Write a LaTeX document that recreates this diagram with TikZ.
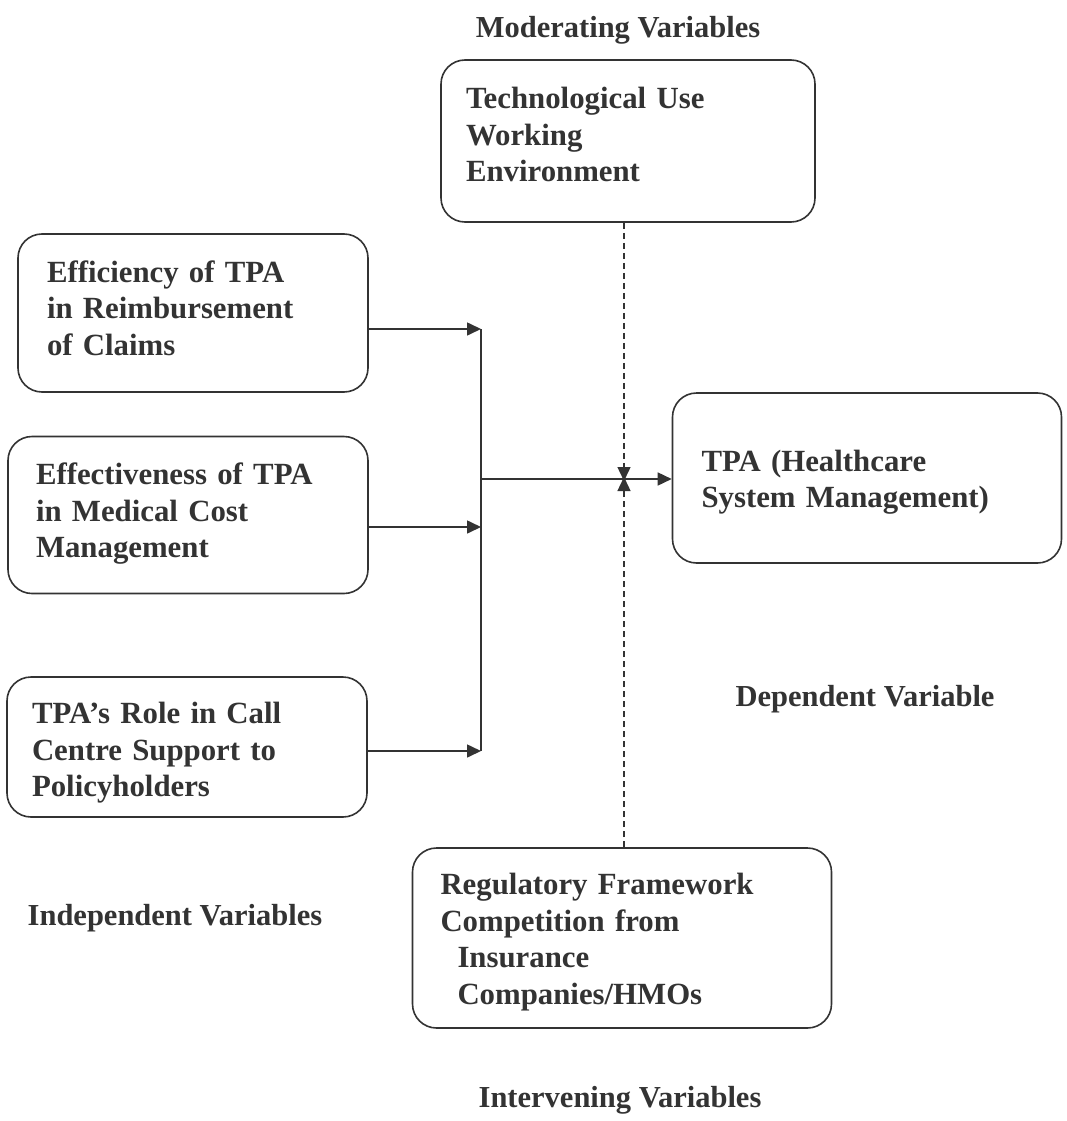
\documentclass[tikz,border=0pt]{standalone}
\usepackage{fontspec}
\setmainfont{Liberation Serif}
\usetikzlibrary{arrows.meta}
\definecolor{ink}{HTML}{333333}
\newcommand{\shiftup}[1]{\par\vspace*{#1}}
\begin{document}
\begin{tikzpicture}[x=1pt,y=-1pt,
  box/.style={draw=ink, line width=1.6pt, rounded corners=24pt, inner xsep=25pt, inner ysep=0pt,
    align=left, text=ink, font=\bfseries\fontsize{30.8}{36.5}\selectfont},
  lbl/.style={text=ink, font=\bfseries\fontsize{30.5}{35}\selectfont, inner sep=0pt},
  conn/.style={draw=ink, line width=1.6pt},
  arr/.style={conn, -{Triangle[length=14pt,width=13pt]}},
  dsh/.style={arr, line width=1.4pt, dash pattern=on 6pt off 4pt}]
\useasboundingbox[fill=white] (0,0) rectangle (1067,1121);

\node[box, text width=324pt, minimum height=162pt] (mod) at (628,141) {Technological Use\\Working\\Environment\shiftup{13pt}};
\node[box, inner xsep=29pt, text width=292pt, minimum height=158pt] (eff) at (193,313) {Efficiency of TPA\\in Reimbursement\\of Claims\shiftup{10pt}};
\node[box, inner xsep=28pt, text width=304pt, minimum height=157pt] (effm) at (188,515) {Effectiveness of TPA\\in Medical Cost\\Management\shiftup{2pt}};
\node[box, inner xsep=25pt, text width=310pt, minimum height=140pt] (role) at (187,747) {TPA's Role in Call\\Centre Support to\\Policyholders\shiftup{-12pt}};
\node[box, inner xsep=29pt, text width=331pt, minimum height=170pt] (tpa) at (867,478) {TPA (Healthcare\\System Management)\shiftup{-8pt}};
\node[box, inner xsep=28pt, text width=363pt, minimum height=180pt] (reg) at (622,938) {Regulatory Framework\\Competition from\\\hspace*{17pt}Insurance\\\hspace*{17pt}Companies/HMOs\shiftup{-8pt}};

\node[lbl] (lmod) at (618,30) {Moderating Variables};
\node[lbl] (ldep) at (865,699) {Dependent Variable};
\node[lbl] (lind) at (175,918) {Independent Variables};
\node[lbl] (lint) at (620,1100) {Intervening Variables};

\coordinate (j1) at (481,329);
\coordinate (j2) at (481,527);
\coordinate (j3) at (481,751);
\coordinate (jm) at (481,479);
\coordinate (meet) at (624,479);

\draw[arr] (eff.east |- j1) -- (j1);
\draw[arr] (effm.east |- j2) -- (j2);
\draw[arr] (role.east |- j3) -- (j3);
\draw[conn] (j1) -- (j3);
\draw[arr] (jm) -- (tpa.west |- jm);
\draw[dsh] (mod.south -| meet) -- ([yshift=-2pt]meet);
\draw[dsh] (reg.north -| meet) -- ([yshift=2pt]meet);
\end{tikzpicture}
\end{document}
